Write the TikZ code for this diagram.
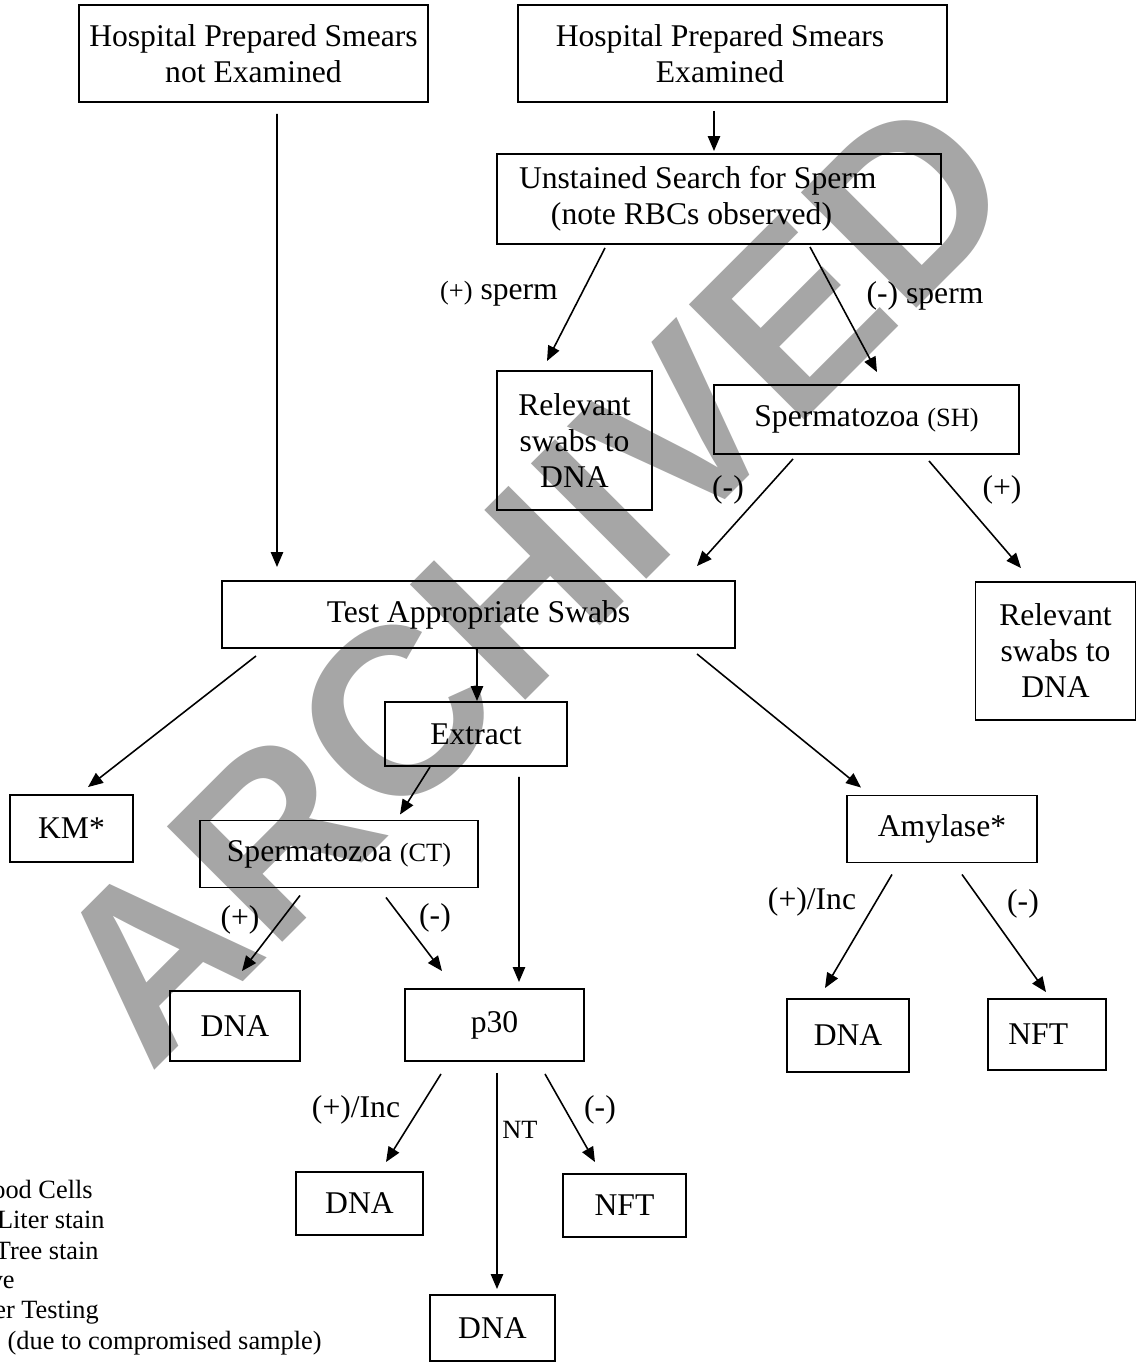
\documentclass[tikz,border=0pt]{standalone}
\usepackage{fontspec}
\setmainfont{Liberation Serif}
\newfontfamily\stampfont{Liberation Sans}
\usetikzlibrary{calc,arrows.meta}
\definecolor{stampgrey}{RGB}{166,166,166}
\newcommand*{\mainsize}{\fontsize{18}{20.5}\selectfont}
\newcommand*{\smallsize}{\fontsize{15}{17.2}\selectfont}
\newcommand*{\shiftpad}[1]{\hspace*{#1}}
\tikzset{
       box/.style = { draw, line width=1.1pt, align=center, inner sep=0pt, font=\mainsize },
      dims/.style 2 args = { minimum width=#1*0.02cm, minimum height=#2*0.02cm },
       lbl/.style = { font=\mainsize, inner sep=0pt },
      note/.style = { font=\smallsize, inner sep=0pt, anchor=base east },
     arrow/.style = { line width=0.9pt, -{Triangle[length=8.5pt,width=7pt]} },
     stamp/.style = { text=stampgrey, rotate=45, inner sep=0pt,
                      font=\stampfont\bfseries\fontsize{135}{135}\selectfont },
}

\begin{document}
\begin{tikzpicture}[x=0.02cm, y=-0.02cm]
  \useasboundingbox (0,0) rectangle (1136,1363);
  \clip (0,0) rectangle (1136,1363);

  \node[stamp] (wm) at (531,579) {ARCHIVED};

  \node[box, dims={349}{97}]  (hpne) at (253.5,53.5) {Hospital Prepared Smears\\not Examined};
  \node[box, dims={429}{97}]  (hpe)  at (732.5,53.5) {Hospital Prepared Smears\shiftpad{0.5cm}\\Examined\shiftpad{0.5cm}};
  \node[box, dims={444}{90}]  (unst) at (719,199)    {Unstained Search for Sperm\shiftpad{0.85cm}\\(note RBCs observed)\shiftpad{1.1cm}};
  \node[box, dims={155}{139}] (rell) at (574.5,440.5) {Relevant\\swabs to\\DNA};
  \node[box, dims={305}{69}]  (shsp) at (866.5,419.5) {Spermatozoa {\smallsize(SH)}};
  \node[box, dims={513}{67}]  (test) at (478.5,614.5) {Test Appropriate Swabs};
  \node[box, dims={160}{138}] (relr) at (1055.5,651) {Relevant\\swabs to\\DNA};
  \node[box, dims={123}{67}]  (km)   at (71.5,828.5) {KM*};
  \node[box, dims={182}{64}]  (extr) at (476,734)    {Extract};
  \node[box, dims={278}{67}]  (ctsp) at (339,854)    {Spermatozoa {\smallsize(CT)}};
  \node[box, dims={190}{67}]  (amyl) at (942,829)    {Amylase*};
  \node[box, dims={130}{70}]  (dnaa) at (235,1026)   {DNA};
  \node[box, dims={179}{72}]  (p30)  at (494.5,1025) {p30};
  \node[box, dims={122}{73}]  (dnab) at (848,1035.5) {DNA};
  \node[box, dims={118}{71}]  (nfta) at (1047,1034.5) {NFT\shiftpad{0.35cm}};
  \node[box, dims={127}{63}]  (dnac) at (359.5,1203.5) {DNA};
  \node[box, dims={123}{63}]  (nftb) at (624.5,1205.5) {NFT};
  \node[box, dims={125}{66}]  (dnad) at (492.5,1328) {DNA};

  \foreach \a/\ax/\ay/\b/\bx/\by in {
      hpne/23.5/11/test/-201.5/-13, hpe/-18.5/8/unst/-5/-2,
      unst/-114/3/rell/-27.5/-9,    unst/91/2/shsp/10.5/-12,
      shsp/-73.5/4/test/218.5/-14,  shsp/62.5/6/relr/-34.5/-13,
      test/-222.5/7/km/16.5/-7,     test/-1.5/0/extr/1/0,
      test/218.5/5/amyl/-81/-7,     extr/-46/0/ctsp/61/-5,
      extr/43/10/p30/24.5/-6,       ctsp/-39/7/dnaa/7/-19,
      ctsp/47/9/p30/-52.5/-17,      amyl/-50/11/dnab/-23/-10,
      amyl/20/11/nfta/-1/-6,        p30/-53.5/12/dnac/26.5/-9,
      p30/2.5/11/dnad/4.5/-5,       p30/50.5/12/nftb/-29.5/-11} {
    \draw [arrow] ($(\a.south)+(\ax,\ay)$) -- ($(\b.north)+(\bx,\by)$);
  }

  \node[lbl] (lpsp) at (499,294)  {{\smallsize(+)} sperm};
  \node[lbl] (lmsp) at (925,296)  {(-) sperm};
  \node[lbl] (lshm) at (728,490)  {(-)};
  \node[lbl] (lshp) at (1002,490) {(+)};
  \node[lbl] (lctp) at (240,920)  {(+)};
  \node[lbl] (lctm) at (435,918)  {(-)};
  \node[lbl] (lamp) at (812,902)  {(+)/Inc};
  \node[lbl] (lamm) at (1023,904) {(-)};
  \node[lbl] (lp3p) at (356,1110) {(+)/Inc};
  \node[lbl] (lp3m) at (600,1110) {(-)};
  \node[lbl, font=\smallsize] (lp3n) at (520,1130) {NT};

  \node[note] (key1) at (93,1198)  {ood Cells};
  \node[note] (key2) at (105,1228) {Liter stain};
  \node[note] (key3) at (99,1259)  {Tree stain};
  \node[note] (key4) at (15,1288)  {ve};
  \node[note] (key5) at (99,1318)  {er Testing};
  \node[note] (key6) at (322,1349) {(due to compromised sample)};
\end{tikzpicture}
\end{document}
